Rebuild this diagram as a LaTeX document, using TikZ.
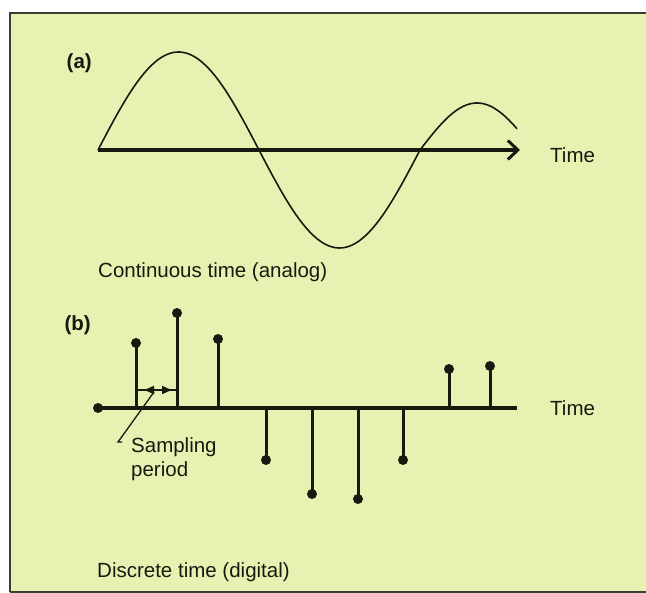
\documentclass[tikz,border=0pt]{standalone}
\usepackage{fontspec}
\setmainfont{Liberation Sans}
\usetikzlibrary{arrows.meta}
\definecolor{bgc}{RGB}{233,241,178}
\definecolor{ink}{RGB}{24,26,16}
\begin{document}
\begin{tikzpicture}[x=1pt,y=-1pt,
  lbl/.style={inner sep=0pt, anchor=west, text=ink, font=\fontsize{20.5}{24}\selectfont},
  tag/.style={inner sep=0pt, anchor=east, text=ink, font=\fontsize{20.5}{24}\selectfont\bfseries},
  axisline/.style={draw=ink, line width=3.2pt},
  stemline/.style={draw=ink, line width=3pt},
  wave/.style={draw=ink, line width=1.6pt},
  dotnode/.style={circle, fill=ink, inner sep=0pt, minimum size=10pt},
  frameline/.style={draw=ink!85, line width=2pt}]
\useasboundingbox (0,0) rectangle (646,593);
% background and frame
\fill[bgc] (10,13) rectangle (646,593);
\coordinate (ftl) at (10,13);
\coordinate (ftr) at (646,13);
\coordinate (fbl) at (10,592);
\coordinate (fbr) at (646,592);
\draw[frameline] (ftr) -- (ftl) -- (fbl);
\draw[frameline] (fbl) -- (fbr);

% ---------- (a) continuous ----------
\node[tag] (taga) at (92,63) {(a)};
\coordinate (a0) at (98,150);
\coordinate (a1) at (520,150);
\draw[wave] plot[domain=98:420, samples=120] (\x,{150-98*sin(1.118*(\x-98))});
\draw[wave] plot[domain=420:517, samples=50] (\x,{150-47*sin(1.579*(\x-420))});
\draw[axisline, -{Straight Barb[length=10pt,width=19pt,line width=3pt]}] (a0) -- (a1);
\node[lbl] (timea) at (550,155) {Time};
\node[lbl] (conta) at (98,272) {Continuous time (analog)};

% ---------- (b) discrete ----------
\node[tag] (tagb) at (91,325) {(b)};
\node[dotnode] (d0) at (98,408) {};
\coordinate (b1) at (517,408);
\draw[axisline] (d0.center) -- (b1);
% stems
\foreach \n/\xx/\yy in {1/136/343, 2/177/313, 3/218/339, 4/266/460, 5/312/494,
                        6/358/499, 7/403/460, 8/449/369, 9/490/366}{
  \coordinate (s\n) at (\xx,408);
  \node[dotnode] (p\n) at (\xx,\yy) {};
  \draw[stemline] (s\n) -- (p\n.center);
}
% sampling period marker
\coordinate (ml) at (136,390);
\coordinate (mr) at (177,390);
\coordinate (ma) at (143,390);
\coordinate (mb) at (173,390);
\draw[draw=ink, line width=1.8pt] (ml) -- (mr);
\draw[draw=ink, line width=1.5pt, {Latex[length=11pt,width=9pt]}-{Latex[length=11pt,width=9pt]}] (ma) -- (mb);
\coordinate (lt) at (154,392);
\coordinate (lb) at (118,442);
\coordinate (lh) at (122,442);
\draw[draw=ink, line width=1.3pt] (lt) -- (lb) -- (lh);
\node[lbl, align=left] (samp) at (131,459) {Sampling\\period};
\node[lbl] (timeb) at (550,408) {Time};
\node[lbl] (disc) at (97,572) {Discrete time (digital)};
\end{tikzpicture}
\end{document}
